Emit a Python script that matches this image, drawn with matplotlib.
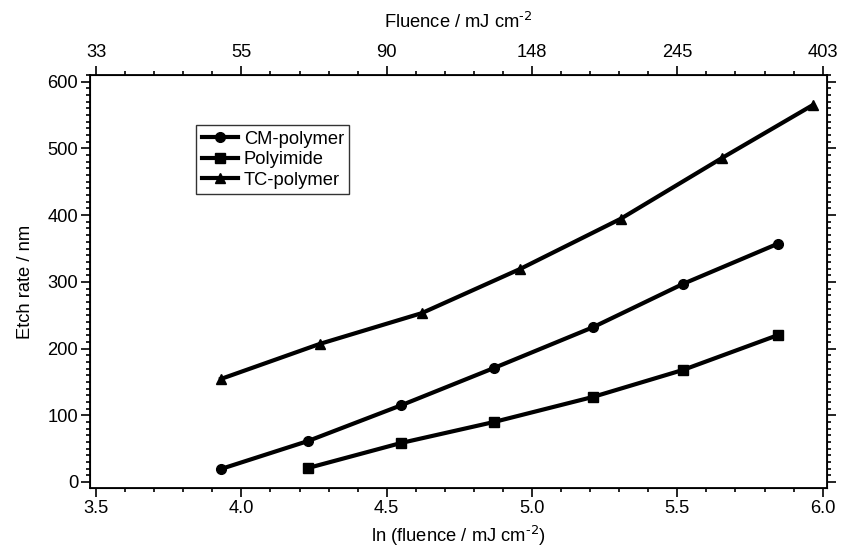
import matplotlib
matplotlib.use("Agg")
import matplotlib.pyplot as plt
import numpy as np
from matplotlib.ticker import MultipleLocator

plt.rcParams['font.family'] = ['Liberation Sans', 'DejaVu Sans']
plt.rcParams['mathtext.default'] = 'regular'

# ln(fluence / mJ cm^-2) and etch rate (nm)
cm_x = [3.93, 4.23, 4.55, 4.87, 5.21, 5.52, 5.845]
cm_y = [19.5, 61.5, 115, 171, 232, 297, 357]

pi_x = [4.23, 4.55, 4.87, 5.21, 5.52, 5.845]
pi_y = [21, 58.5, 90, 127.5, 168, 220]

tc_x = [3.93, 4.27, 4.62, 4.96, 5.305, 5.655, 5.966]
tc_y = [154.5, 207, 253, 319.5, 394.5, 486, 565]

bottom_ticks = [3.5, 4.0, 4.5, 5.0, 5.5, 6.0]
top_labels = ["33", "55", "90", "148", "245", "403"]

fs = 13.2
fig = plt.figure(figsize=(8.41, 5.52), dpi=100)
ax = fig.add_axes([0.107, 0.116, 0.876, 0.748])

lw = 3.0
ax.plot(cm_x, cm_y, color='black', lw=lw, marker='o', ms=7, label='CM-polymer')
ax.plot(pi_x, pi_y, color='black', lw=lw, marker='s', ms=6.5, label='Polyimide')
ax.plot(tc_x, tc_y, color='black', lw=lw, marker='^', ms=7.5, label='TC-polymer')

ax.set_xlim(3.479, 6.014)
ax.set_ylim(-9, 610)
ax.set_xticks(bottom_ticks)
ax.set_xticklabels([f"{t:.1f}" for t in bottom_ticks])
ax.xaxis.set_minor_locator(MultipleLocator(0.1))
ax.set_yticks(np.arange(0, 601, 100))
ax.yaxis.set_minor_locator(MultipleLocator(10))

ax.tick_params(which='both', direction='out', labelsize=fs, width=1.2, color='black')
ax.tick_params(which='major', length=6.5)
ax.tick_params(which='minor', length=3)
ax.tick_params(axis='y', which='both', right=True)
ax.tick_params(axis='y', pad=2)
ax.tick_params(axis='x', pad=2)
for s in ax.spines.values():
    s.set_linewidth(1.3)

ax.set_xlabel(r"ln (fluence / mJ cm$^{\text{-2}}$)", fontsize=fs, labelpad=5)
ax.set_ylabel("Etch rate / nm", fontsize=fs, labelpad=10)

top = ax.twiny()
top.set_xlim(ax.get_xlim())
top.set_xticks(bottom_ticks)
top.set_xticklabels(top_labels)
top.xaxis.set_minor_locator(MultipleLocator(0.1))
top.tick_params(which='both', direction='out', labelsize=fs, width=1.2)
top.tick_params(which='major', length=6.5)
top.tick_params(which='minor', length=3)
top.set_xlabel(r"Fluence / mJ cm$^{\text{-2}}$", fontsize=fs, labelpad=12)

leg = ax.legend(loc='upper left', bbox_to_anchor=(0.144, 0.879), fontsize=fs,
                frameon=True, fancybox=False, handlelength=2.0, handletextpad=0.3,
                labelspacing=0.2, borderpad=0.3, borderaxespad=0)
leg.get_frame().set_edgecolor('black')
leg.get_frame().set_linewidth(1.0)

fig.savefig("out.png", dpi=100)
